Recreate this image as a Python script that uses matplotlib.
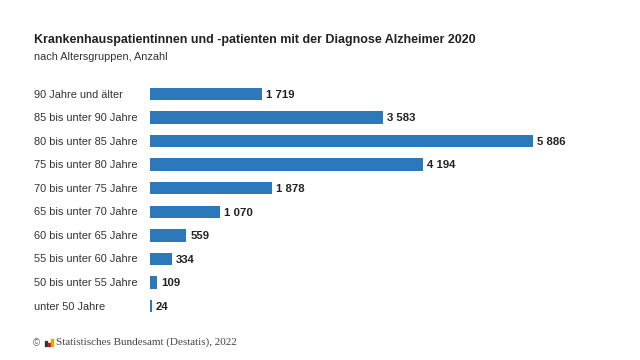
import matplotlib
matplotlib.use("Agg")
from matplotlib import pyplot as plt
from matplotlib.patches import Rectangle

plt.rcParams['font.family'] = ['Liberation Sans', 'DejaVu Sans']

categories = ['90 Jahre und älter', '85 bis unter 90 Jahre', '80 bis unter 85 Jahre',
              '75 bis unter 80 Jahre', '70 bis unter 75 Jahre', '65 bis unter 70 Jahre',
              '60 bis unter 65 Jahre', '55 bis unter 60 Jahre', '50 bis unter 55 Jahre',
              'unter 50 Jahre']
values = [1719, 3583, 5886, 4194, 1878, 1070, 559, 334, 109, 24]

bar_color = '#2b78ba'
text_color = '#333333'

fig = plt.figure(figsize=(6.4, 3.6), dpi=100)
ax = fig.add_axes([150 / 640, 1 - 318 / 360, (533 - 150) / 640, 236 / 360])

y = list(range(len(categories)))
ax.barh(y, values, height=0.52, color=bar_color)
ax.set_xlim(0, 5886)
ax.set_ylim(len(categories) - 0.5, -0.5)

for yi, v in zip(y, values):
    label = f"{v:,}".replace(",", " ")
    ax.text(v + 60, yi + 0.03, label, va='center', ha='left', fontsize=8.2,
            fontweight='bold', color='#222222')

for yi, c in zip(y, categories):
    fig.text(34 / 640, 1 - (94.5 + yi * 23.56) / 360, c, va='center', ha='left',
             fontsize=7.9, color=text_color)

ax.axis('off')

fig.text(34 / 640, 1 - 40 / 360, 'Krankenhauspatientinnen und -patienten mit der Diagnose Alzheimer 2020',
         fontsize=9.0, fontweight='bold', color='#222222', va='center')
fig.text(34 / 640, 1 - 57 / 360, 'nach Altersgruppen, Anzahl', fontsize=7.8, color=text_color, va='center')

# footer with small logo
fig.text(33 / 640, 1 - 343 / 360, '©', fontsize=7, color='#666666', va='center')
for dx, h, col in [(0, 5, '#333333'), (3, 3, '#c8102e'), (6, 7, '#e0a800')]:
    fig.patches.append(Rectangle(((45 + dx) / 640, 1 - 346 / 360), 2 / 640, h / 360,
                                 transform=fig.transFigure, color=col))
fig.text(56 / 640, 1 - 342 / 360, 'Statistisches Bundesamt (Destatis), 2022',
         fontsize=8.0, family=['Liberation Serif', 'DejaVu Serif'], color='#444444', va='center')

fig.savefig('out.png', dpi=100)
